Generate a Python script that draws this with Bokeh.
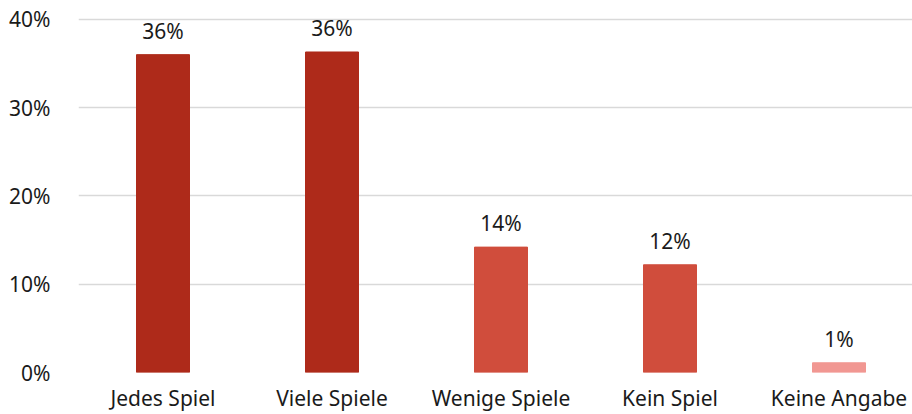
from bokeh.plotting import figure
from bokeh.models import ColumnDataSource, Range1d, FixedTicker, NumeralTickFormatter
from bokeh.core.properties import value
from bokeh.embed import file_html
from bokeh.resources import INLINE

categories = ["Jedes Spiel", "Viele Spiele", "Wenige Spiele", "Kein Spiel", "Keine Angabe"]
values = [0.360, 0.363, 0.142, 0.122, 0.011]
labels = ["36%", "36%", "14%", "12%", "1%"]
colors = ["#AE2A1A", "#AE2A1A", "#D04D3C", "#D04D3C", "#F19792"]

x = list(range(len(categories)))
src = ColumnDataSource(dict(x=x, top=values, label=labels, color=colors))

FONT = "Noto Sans"
FS = "21px"

p = figure(width=912, height=414, output_backend="svg", toolbar_location=None,
           x_range=Range1d(-0.5, -0.5 + 834 / 169), y_range=Range1d(0, 0.41),
           min_border_left=78, min_border_right=0, min_border_top=10, min_border_bottom=42)
p.outline_line_color = None
p.background_fill_color = "white"
p.border_fill_color = "white"

p.vbar(x="x", top="top", width=53 / 169, bottom=0, color="color", source=src)
p.text(x="x", y="top", text="label", source=src, text_align="center", text_baseline="bottom",
       y_offset=-10, text_font=value(FONT), text_font_size=FS, text_color="#1a1a1a")

p.xgrid.grid_line_color = None
p.ygrid.grid_line_color = "#d9d9d9"
p.ygrid.grid_line_width = 1.5

p.yaxis.ticker = FixedTicker(ticks=[0, 0.1, 0.2, 0.3, 0.4])
p.yaxis.formatter = NumeralTickFormatter(format="0%")
p.xaxis.ticker = FixedTicker(ticks=x)
p.xaxis.major_label_overrides = {i: c for i, c in enumerate(categories)}

for ax in (p.xaxis, p.yaxis):
    ax.axis_line_color = None
    ax.major_tick_line_color = None
    ax.minor_tick_line_color = None
    ax.major_label_text_font = FONT
    ax.major_label_text_font_size = FS
    ax.major_label_text_color = "#1a1a1a"
p.yaxis.major_label_standoff = 22
p.xaxis.major_label_standoff = 5

open("out.html", "w").write(file_html(p, INLINE))
